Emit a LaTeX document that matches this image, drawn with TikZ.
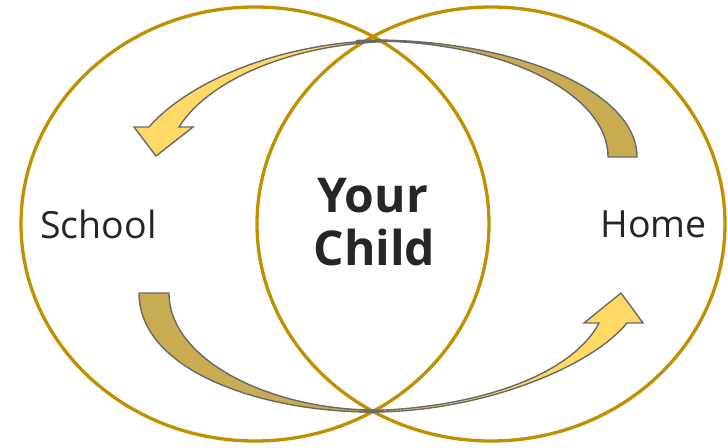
\documentclass[tikz,border=0pt]{standalone}
\usepackage{fontspec}
\setmainfont{Open Sans}
\usetikzlibrary{shapes.geometric}
\definecolor{ringgold}{HTML}{BF9000}
\definecolor{lightband}{HTML}{FFD966}
\definecolor{darkband}{HTML}{C9AB51}
\definecolor{bandedge}{HTML}{696969}
\definecolor{ink}{HTML}{262626}
\begin{document}
\begin{tikzpicture}[x=1pt,y=-1pt,
  ring/.style={ellipse, draw=ringgold, line width=3.3pt, minimum width=468pt, minimum height=434pt, inner sep=0pt},
  band/.style={draw=bandedge, line width=1.4pt, line join=miter},
  sidetext/.style={font=\fontsize{37.5}{46}\selectfont, text=ink, anchor=base, inner sep=0pt},
  core/.style={font=\fontsize{48}{53}\selectfont\bfseries, text=ink, anchor=base, inner sep=0pt}]
  \fill[white] (0,0) rectangle (728,447);
  \useasboundingbox (0,0) rectangle (728,447);

  % the two overlapping circles of influence
  \node[ring] (schoolring) at (255,224) {};
  \node[ring] (homering) at (491,224) {};

  % upper band: from home, over the top, to school
  \draw[band, fill=darkband] (356,40.5) -- (372,40)
    .. controls (518,40) and (637,92) .. (637,157) -- (608,157)
    .. controls (608,93) and (502,41) .. (372,41) -- cycle;
  \draw[band, fill=lightband] (388,40.5)
    .. controls (285,41) and (190,80) .. (149,127) -- (134,127) -- (156,156)
    -- (193,127) -- (179,127)
    .. controls (210,78) and (295,44) .. (388,41.5) -- cycle;

  % lower band: from school, under the bottom, to home
  \draw[band, fill=darkband] (139,293) -- (169,293)
    .. controls (169,360) and (270,409) .. (372,410) -- (388,411) -- (372,412)
    .. controls (260,412) and (139,370) .. (139,293) -- cycle;
  \draw[band, fill=lightband] (358,411.5) -- (372,412)
    .. controls (480,412) and (590,368) .. (627,323) -- (643,323) -- (621,293)
    -- (584,323) -- (599,323)
    .. controls (570,378) and (470,408) .. (372,410.5) -- cycle;

  % labels
  \node[sidetext] (school) at (98.5,238) {School};
  \node[sidetext] (home) at (653.5,237) {Home};
  \node[core] (your) at (372.5,212) {Your};
  \node[core] (child) at (374.5,265) {Child};
\end{tikzpicture}
\end{document}
